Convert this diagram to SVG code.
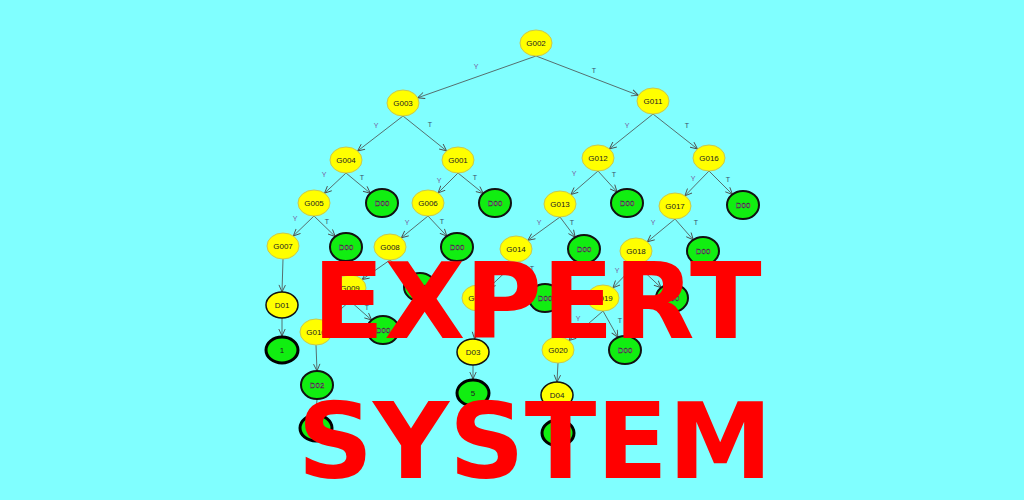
<svg xmlns="http://www.w3.org/2000/svg" width="1024" height="500" viewBox="0 0 1024 500">
  <style>
    .q { fill: #ffff00; stroke: #c8c850; stroke-width: 1; }
    .r { fill: #ffff00; stroke: #111; stroke-width: 1.5; }
    .d { fill: #11ee11; stroke: #111; stroke-width: 2; }
    .leaf { fill: #11ee11; stroke: #000; stroke-width: 3; }
    .lbl { font-family: "Liberation Sans", Arial, sans-serif; font-size: 8px; fill: #222; text-anchor: middle; dominant-baseline: central; }
    .lw { font-family: "Liberation Sans", Arial, sans-serif; font-size: 8px; fill: #fff; stroke: #333; stroke-width: 0.5; text-anchor: middle; dominant-baseline: central; }
    .edge line { stroke: #4a4a4a; stroke-width: 0.8; marker-end: url(#arr); }
    .yl { font-family: "Liberation Sans", Arial, sans-serif; font-size: 7px; fill: #7a5ca0; text-anchor: middle; }
    .tl { font-family: "Liberation Sans", Arial, sans-serif; font-size: 7px; fill: #3a4a6a; text-anchor: middle; }
    .big { font-family: "DejaVu Sans", "Liberation Sans", sans-serif; font-weight: bold; font-size: 105px; fill: #ff0000; text-anchor: middle; }
  </style>
  <defs>
    <marker id="arr" viewBox="0 0 8 8" refX="7.5" refY="4" markerWidth="8" markerHeight="8" markerUnits="userSpaceOnUse" orient="auto">
      <path d="M0.5,0.8 L7.5,4 L0.5,7.2" fill="none" stroke="#4a4a4a" stroke-width="0.9"/>
    </marker>
  </defs>

  <rect width="1024" height="500" fill="#80ffff"/>

  <!-- connectors -->
  <g id="connectors" class="edge">
    <line x1="536" y1="56" x2="417.6" y2="97.8"/>
    <line x1="536" y1="56" x2="638.5" y2="95.4"/>
    <line x1="403" y1="116" x2="357.6" y2="151"/>
    <line x1="403" y1="116" x2="446.6" y2="150.9"/>
    <line x1="653" y1="114" x2="609.4" y2="148.9"/>
    <line x1="653" y1="114" x2="697.5" y2="149"/>
    <line x1="346" y1="173" x2="324.5" y2="193.2"/>
    <line x1="346" y1="173" x2="370.4" y2="193.3"/>
    <line x1="458" y1="173" x2="438.1" y2="192.9"/>
    <line x1="458" y1="173" x2="483.3" y2="193.5"/>
    <line x1="314" y1="216" x2="293.3" y2="236"/>
    <line x1="314" y1="216" x2="335.3" y2="236.6"/>
    <line x1="428" y1="216" x2="401.3" y2="237.8"/>
    <line x1="428" y1="216" x2="446.9" y2="236.2"/>
    <line x1="598" y1="171" x2="570.9" y2="194.5"/>
    <line x1="598" y1="171" x2="617.1" y2="192"/>
    <line x1="709" y1="171" x2="684.9" y2="195.8"/>
    <line x1="709" y1="171" x2="732.5" y2="194.5"/>
    <line x1="560" y1="217" x2="527.9" y2="240.3"/>
    <line x1="560" y1="217" x2="575.2" y2="237.3"/>
    <line x1="675" y1="219" x2="647.3" y2="241.8"/>
    <line x1="675" y1="219" x2="693.3" y2="239.9"/>
    <line x1="283" y1="259" x2="282" y2="292"/>
    <line x1="282" y1="318" x2="282" y2="336"/>
    <line x1="390" y1="260" x2="362.1" y2="279.5"/>
    <line x1="390" y1="260" x2="408.8" y2="277"/>
    <line x1="350" y1="301" x2="325.8" y2="322.4"/>
    <line x1="350" y1="301" x2="371.7" y2="320.1"/>
    <line x1="316" y1="345" x2="317" y2="371"/>
    <line x1="317" y1="399" x2="316" y2="414"/>
    <line x1="516" y1="262" x2="488.4" y2="288.1"/>
    <line x1="516" y1="262" x2="535.8" y2="286.6"/>
    <line x1="478" y1="311" x2="474.6" y2="339.1"/>
    <line x1="473" y1="365" x2="473" y2="379"/>
    <line x1="636" y1="264" x2="612.9" y2="287.8"/>
    <line x1="636" y1="264" x2="661.1" y2="287.7"/>
    <line x1="603" y1="311" x2="568.9" y2="340.5"/>
    <line x1="603" y1="311" x2="617.9" y2="337.4"/>
    <line x1="558" y1="363" x2="557" y2="382"/>
    <line x1="557" y1="408" x2="558" y2="419"/>
  </g>

  <!-- branch labels -->
  <g id="branch-labels">
    <text class="yl" x="476" y="69">Y</text><text class="tl" x="594" y="73">T</text>
    <text class="yl" x="376" y="128">Y</text><text class="tl" x="430" y="127">T</text>
    <text class="yl" x="627" y="128">Y</text><text class="tl" x="687" y="128">T</text>
    <text class="yl" x="324" y="177">Y</text><text class="tl" x="362" y="180">T</text>
    <text class="yl" x="439" y="183">Y</text><text class="tl" x="475" y="180">T</text>
    <text class="yl" x="295" y="221">Y</text><text class="tl" x="327" y="224">T</text>
    <text class="yl" x="407" y="225">Y</text><text class="tl" x="442" y="224">T</text>
    <text class="yl" x="574" y="176">Y</text><text class="tl" x="614" y="177">T</text>
    <text class="yl" x="693" y="181">Y</text><text class="tl" x="728" y="182">T</text>
    <text class="yl" x="539" y="225">Y</text><text class="tl" x="572" y="225">T</text>
    <text class="yl" x="653" y="225">Y</text><text class="tl" x="696" y="225">T</text>
    <text class="yl" x="368" y="276">Y</text><text class="tl" x="406" y="275">T</text>
    <text class="yl" x="330" y="318">Y</text><text class="tl" x="367" y="310">T</text>
    <text class="yl" x="495" y="273">Y</text><text class="tl" x="532" y="271">T</text>
    <text class="yl" x="617" y="273">Y</text><text class="tl" x="655" y="275">T</text>
    <text class="yl" x="578" y="321">Y</text><text class="tl" x="620" y="323">T</text>
  </g>

  <!-- nodes -->
  <g id="G002"><ellipse class="q" cx="536" cy="43" rx="16" ry="13"/><text class="lbl" x="536" y="43">G002</text></g>
  <g id="G003"><ellipse class="q" cx="403" cy="103" rx="16" ry="13"/><text class="lbl" x="403" y="103">G003</text></g>
  <g id="G011"><ellipse class="q" cx="653" cy="101" rx="16" ry="13"/><text class="lbl" x="653" y="101">G011</text></g>
  <g id="G004"><ellipse class="q" cx="346" cy="160" rx="16" ry="13"/><text class="lbl" x="346" y="160">G004</text></g>
  <g id="G001"><ellipse class="q" cx="458" cy="160" rx="16" ry="13"/><text class="lbl" x="458" y="160">G001</text></g>
  <g id="G005"><ellipse class="q" cx="314" cy="203" rx="16" ry="13"/><text class="lbl" x="314" y="203">G005</text></g>
  <g id="D00-a"><ellipse class="d" cx="382" cy="203" rx="16" ry="14"/><text class="lw" x="382" y="203">D00</text></g>
  <g id="G006"><ellipse class="q" cx="428" cy="203" rx="16" ry="13"/><text class="lbl" x="428" y="203">G006</text></g>
  <g id="D00-b"><ellipse class="d" cx="495" cy="203" rx="16" ry="14"/><text class="lw" x="495" y="203">D00</text></g>
  <g id="G007"><ellipse class="q" cx="283" cy="246" rx="16" ry="13"/><text class="lbl" x="283" y="246">G007</text></g>
  <g id="D00-c"><ellipse class="d" cx="346" cy="247" rx="16" ry="14"/><text class="lw" x="346" y="247">D00</text></g>
  <g id="G008"><ellipse class="q" cx="390" cy="247" rx="16" ry="13"/><text class="lbl" x="390" y="247">G008</text></g>
  <g id="D00-d"><ellipse class="d" cx="457" cy="247" rx="16" ry="14"/><text class="lw" x="457" y="247">D00</text></g>
  <g id="G012"><ellipse class="q" cx="598" cy="158" rx="16" ry="13"/><text class="lbl" x="598" y="158">G012</text></g>
  <g id="G016"><ellipse class="q" cx="709" cy="158" rx="16" ry="13"/><text class="lbl" x="709" y="158">G016</text></g>
  <g id="G013"><ellipse class="q" cx="560" cy="204" rx="16" ry="13"/><text class="lbl" x="560" y="204">G013</text></g>
  <g id="D00-e"><ellipse class="d" cx="627" cy="203" rx="16" ry="14"/><text class="lw" x="627" y="203">D00</text></g>
  <g id="G017"><ellipse class="q" cx="675" cy="206" rx="16" ry="13"/><text class="lbl" x="675" y="206">G017</text></g>
  <g id="D00-f"><ellipse class="d" cx="743" cy="205" rx="16" ry="14"/><text class="lw" x="743" y="205">D00</text></g>
  <g id="G014"><ellipse class="q" cx="516" cy="249" rx="16" ry="13"/><text class="lbl" x="516" y="249">G014</text></g>
  <g id="D00-g"><ellipse class="d" cx="584" cy="249" rx="16" ry="14"/><text class="lw" x="584" y="249">D00</text></g>
  <g id="G018"><ellipse class="q" cx="636" cy="251" rx="16" ry="13"/><text class="lbl" x="636" y="251">G018</text></g>
  <g id="D00-h"><ellipse class="d" cx="703" cy="251" rx="16" ry="14"/><text class="lw" x="703" y="251">D00</text></g>
  <g id="G009"><ellipse class="q" cx="350" cy="288" rx="16" ry="13"/><text class="lbl" x="350" y="288">G009</text></g>
  <g id="D00-i"><ellipse class="d" cx="420" cy="287" rx="16" ry="14"/><text class="lw" x="420" y="287">D00</text></g>
  <g id="G010"><ellipse class="q" cx="316" cy="332" rx="16" ry="13"/><text class="lbl" x="316" y="332">G010</text></g>
  <g id="D00-j"><ellipse class="d" cx="383" cy="330" rx="16" ry="14"/><text class="lw" x="383" y="330">D00</text></g>
  <g id="D01"><ellipse class="r" cx="282" cy="305" rx="16" ry="13"/><text class="lbl" x="282" y="305">D01</text></g>
  <g id="R1"><ellipse class="leaf" cx="282" cy="350" rx="16" ry="13"/><text class="lbl" x="282" y="350">1</text></g>
  <g id="D02"><ellipse class="d" cx="317" cy="385" rx="16" ry="14"/><text class="lw" x="317" y="385">D02</text></g>
  <g id="R2"><ellipse class="leaf" cx="316" cy="428" rx="16" ry="13"/></g>
  <g id="G015"><ellipse class="q" cx="478" cy="298" rx="16" ry="13"/><text class="lbl" x="478" y="298">G015</text></g>
  <g id="D00-k"><ellipse class="d" cx="545" cy="298" rx="16" ry="14"/><text class="lw" x="545" y="298">D00</text></g>
  <g id="D03"><ellipse class="r" cx="473" cy="352" rx="16" ry="13"/><text class="lbl" x="473" y="352">D03</text></g>
  <g id="R5"><ellipse class="leaf" cx="473" cy="393" rx="16" ry="13"/><text class="lbl" x="473" y="393">5</text></g>
  <g id="G019"><ellipse class="q" cx="603" cy="298" rx="16" ry="13"/><text class="lbl" x="603" y="298">G019</text></g>
  <g id="D00-l"><ellipse class="d" cx="672" cy="298" rx="16" ry="14"/><text class="lw" x="672" y="298">D00</text></g>
  <g id="G020"><ellipse class="q" cx="558" cy="350" rx="16" ry="13"/><text class="lbl" x="558" y="350">G020</text></g>
  <g id="D00-m"><ellipse class="d" cx="625" cy="350" rx="16" ry="14"/><text class="lw" x="625" y="350">D00</text></g>
  <g id="D04"><ellipse class="r" cx="557" cy="395" rx="16" ry="13"/><text class="lbl" x="557" y="395">D04</text></g>
  <g id="R4"><ellipse class="leaf" cx="558" cy="433" rx="16" ry="13"/></g>

  <!-- title -->
  <g id="title">
    <text class="big" x="537" y="338">EXPERT</text>
    <text class="big" x="535" y="478">SYSTEM</text>
  </g>
</svg>
